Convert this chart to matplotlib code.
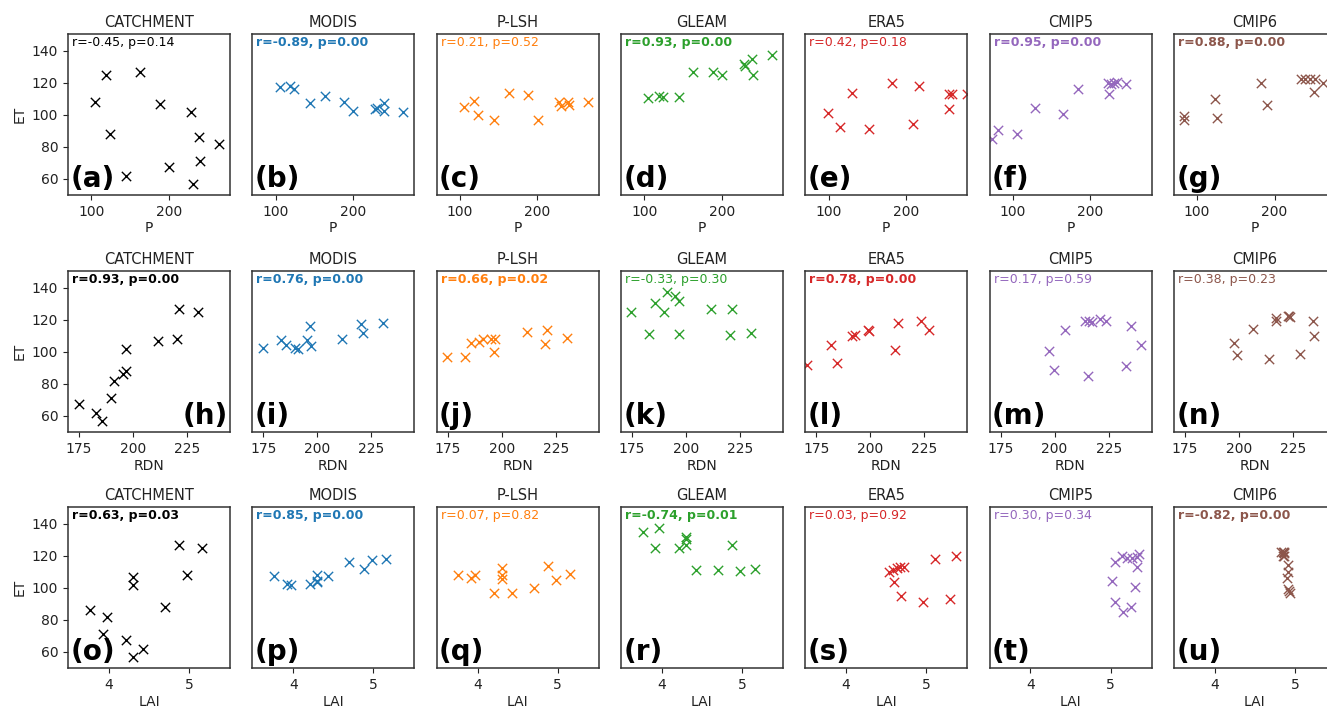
import matplotlib.pyplot as plt

# observed forcing (same 12 points for the observation based ET products)
P_OBS = [105.3, 118.6, 123.9, 144.6, 163.4, 188.5, 200.2, 228.3, 230.8, 239.4, 240.6, 264.9]
RDN_OBS = [220.2, 230.2, 196.6, 183.0, 221.1, 211.6, 174.8, 196.9, 185.6, 195.1, 189.7, 191.2]
LAI_OBS = [4.98, 5.16, 4.70, 4.43, 4.88, 4.30, 4.21, 4.30, 4.30, 3.76, 3.92, 3.97]

ET_CATCHMENT = [108.0, 124.9, 88.1, 62.1, 127.0, 107.1, 67.7, 101.7, 56.6, 86.0, 71.5, 82.0]
ET_MODIS = [117.6, 118.2, 116.2, 107.6, 111.7, 107.8, 102.4, 103.7, 104.4, 107.5, 102.3, 101.7]
ET_PLSH = [104.8, 108.8, 100.2, 97.1, 113.8, 112.6, 97.1, 107.8, 105.8, 107.8, 106.0, 108.0]
ET_GLEAM = [110.3, 111.7, 111.1, 111.3, 126.9, 127.0, 124.9, 131.8, 130.6, 135.2, 124.9, 137.3]

# model products, read panel by panel
ERA5_P = [99.2, 115.1, 130.6, 152.3, 181.6, 209.5, 217.2, 255.9, 260.1, 255.9, 278.3]
ERA5_P_ET = [101.3, 92.5, 113.4, 91.2, 119.7, 94.6, 118.0, 112.8, 112.8, 103.8, 112.8]
ERA5_RDN = [170.7, 181.9, 184.6, 191.6, 193.1, 198.8, 199.5, 211.4, 212.9, 223.4, 227.2]
ERA5_RDN_ET = [91.6, 104.1, 93.0, 109.7, 110.7, 113.4, 113.0, 101.4, 118.0, 119.6, 113.8]
ERA5_LAI = [4.53, 4.58, 4.63, 4.67, 4.72, 4.60, 4.68, 4.96, 5.11, 5.30, 5.37]
ERA5_LAI_ET = [110.1, 110.9, 112.6, 113.3, 113.3, 103.9, 94.9, 91.3, 118.1, 92.8, 119.9]

CMIP5_P = [72.9, 80.8, 105.7, 128.1, 164.8, 184.2, 224.3, 223.1, 227.4, 230.4, 234.7, 246.8]
CMIP5_P_ET = [84.9, 90.8, 88.3, 104.4, 100.8, 116.3, 113.2, 119.7, 119.1, 120.1, 120.5, 119.1]
CMIP5_RDN = [197.5, 199.5, 205.0, 214.2, 215.9, 217.4, 221.1, 223.9, 215.5, 233.1, 235.4, 240.0]
CMIP5_RDN_ET = [100.5, 88.5, 113.4, 119.2, 119.2, 118.6, 120.3, 119.6, 84.9, 91.0, 116.1, 104.5]
CMIP5_LAI = [5.05, 5.14, 5.20, 5.27, 5.33, 5.36, 5.33, 5.02, 5.31, 5.06, 5.16, 5.26]
CMIP5_LAI_ET = [116.4, 120.2, 118.9, 118.9, 119.5, 121.0, 113.3, 104.5, 100.7, 91.3, 85.1, 88.2]

CMIP6_P = [83.7, 83.7, 122.6, 125.1, 182.0, 189.8, 233.9, 239.8, 245.9, 251.9, 251.1, 263.2]
CMIP6_P_ET = [99.6, 96.6, 110.1, 98.1, 120.1, 105.9, 122.6, 122.6, 122.6, 122.4, 114.4, 119.7]
CMIP6_RDN = [197.7, 198.9, 206.3, 213.9, 217.3, 217.0, 222.7, 223.7, 223.1, 228.4, 234.2, 234.5]
CMIP6_RDN_ET = [105.7, 97.8, 114.4, 95.7, 121.3, 119.2, 122.1, 121.7, 122.6, 98.9, 119.6, 109.7]
CMIP6_LAI = [4.83, 4.85, 4.87, 4.86, 4.85, 4.87, 4.92, 4.91, 4.90, 4.91, 4.93, 4.94]
CMIP6_LAI_ET = [122.6, 122.6, 122.4, 122.0, 120.1, 119.7, 114.4, 110.1, 105.9, 99.6, 98.1, 96.6]

DATASETS = ["CATCHMENT", "MODIS", "P-LSH", "GLEAM", "ERA5", "CMIP5", "CMIP6"]
COLORS = ["black", "tab:blue", "tab:orange", "tab:green", "tab:red", "tab:purple", "tab:brown"]

R_P = [-0.45, -0.89, 0.21, 0.93, 0.42, 0.95, 0.88]
PV_P = [0.14, 0.00, 0.52, 0.00, 0.18, 0.00, 0.00]
R_RDN = [0.93, 0.76, 0.66, -0.33, 0.78, 0.17, 0.38]
PV_RDN = [0.00, 0.00, 0.02, 0.30, 0.00, 0.59, 0.23]
R_LAI = [0.63, 0.85, 0.07, -0.74, 0.03, 0.30, -0.82]
PV_LAI = [0.03, 0.00, 0.82, 0.01, 0.92, 0.34, 0.00]

ET_OBS = [ET_CATCHMENT, ET_MODIS, ET_PLSH, ET_GLEAM]
rows = [
    ("P", [P_OBS] * 4 + [ERA5_P, CMIP5_P, CMIP6_P],
     ET_OBS + [ERA5_P_ET, CMIP5_P_ET, CMIP6_P_ET],
     R_P, PV_P, (69.9, 279.1), [100, 200]),
    ("RDN", [RDN_OBS] * 4 + [ERA5_RDN, CMIP5_RDN, CMIP6_RDN],
     ET_OBS + [ERA5_RDN_ET, CMIP5_RDN_ET, CMIP6_RDN_ET],
     R_RDN, PV_RDN, (169.9, 244.8), [175, 200, 225]),
    ("LAI", [LAI_OBS] * 4 + [ERA5_LAI, CMIP5_LAI, CMIP6_LAI],
     ET_OBS + [ERA5_LAI_ET, CMIP5_LAI_ET, CMIP6_LAI_ET],
     R_LAI, PV_LAI, (3.488, 5.512), [4, 5]),
]

W, H = 1327, 707
fig = plt.figure(figsize=(W / 100, H / 100), dpi=100)

lefts = [68 + i * 184.3 for i in range(7)]
tops = [34, 271, 507]
aw, ah = 162, 161

letters = "abcdefghijklmnopqrstu"
k = 0
for r, (xname, xs, ys, rs, ps, xlim, xticks) in enumerate(rows):
    for c in range(7):
        ax = fig.add_axes([lefts[c] / W, 1 - (tops[r] + ah) / H, aw / W, ah / H])
        ax.scatter(xs[c], ys[c], marker="x", s=45, color=COLORS[c], linewidths=1.0)
        ax.set_xlim(*xlim)
        ax.set_ylim(50, 150.5)
        ax.set_xticks(xticks)
        ax.set_yticks([60, 80, 100, 120, 140])
        ax.tick_params(labelsize=10, colors="#222222")
        for sp in ax.spines.values():
            sp.set_color("#333333")
            sp.set_linewidth(1.1)
        ax.set_title(DATASETS[c], fontsize=10.5, color="#222222", pad=5)
        ax.set_xlabel(xname, fontsize=10, color="#222222", labelpad=2)
        if c == 0:
            ax.set_ylabel("ET", fontsize=10, color="#222222")
        else:
            ax.tick_params(left=False, labelleft=False)

        bold = ps[c] < 0.05
        ax.text(0.025, 0.985, f"r={rs[c]:.2f}, p={ps[c]:.2f}", transform=ax.transAxes,
                ha="left", va="top", fontsize=9, color=COLORS[c],
                fontweight="bold" if bold else "normal")

        lab = f"({letters[k]})"
        if lab == "(h)":
            ax.text(0.985, 0.01, lab, transform=ax.transAxes, ha="right", va="bottom",
                    fontsize=20, fontweight="bold")
        else:
            ax.text(0.015, 0.01, lab, transform=ax.transAxes, ha="left", va="bottom",
                    fontsize=20, fontweight="bold")
        k += 1

plt.savefig("out.png", dpi=100)
